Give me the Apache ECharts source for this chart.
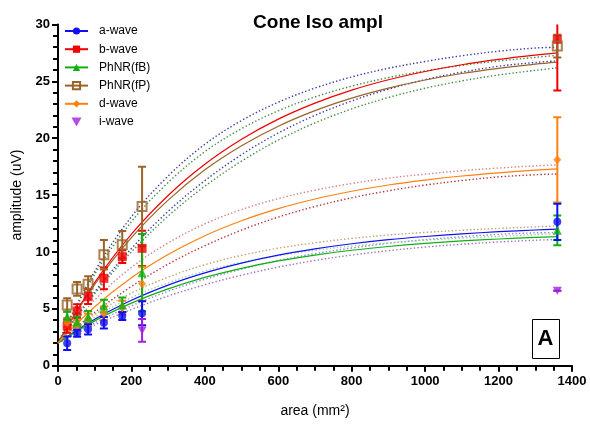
<!DOCTYPE html>
<html>
<head>
<meta charset="utf-8">
<script src="https://cdn.jsdelivr.net/npm/echarts@6/dist/echarts.min.js"></script>
<style>
  html, body { margin: 0; padding: 0; background: #fff; }
  #chart { width: 590px; height: 426px; }
</style>
</head>
<body>
<div id="chart"></div>
<script>
// Stimulus areas (mm²) at which each amplitude was measured
const AREA = [25, 52, 82, 125, 175, 229, 1360];

// Mean amplitudes (uV) and their error bars
const A_WAVE = [1.97, 2.85, 3.2, 3.78, 4.37, 4.61, 12.65];
const A_ERR  = [0.6, 0.3, 0.45, 0.5, 0.35, 1.05, 1.6];
const B_WAVE = [3.49, 4.81, 6.07, 7.68, 9.59, 10.32, 28.7];
const B_ERR  = [0.6, 0.6, 0.65, 0.95, 0.55, 1.55, 4.5];
const FB_WAVE = [4.31, 3.87, 4.31, 5.25, 5.34, 8.18, 11.9];
const FB_ERR  = [0.45, 0.45, 0.5, 0.55, 0.65, 3.4, 1.3];
const FP_WAVE = [5.34, 6.75, 7.16, 9.76, 10.64, 14.0, 28.1];
const FP_ERR  = [0.6, 0.6, 0.7, 1.3, 1.2, 3.5, 1.0];
const D_WAVE = [3.8, 3.6, 4.1, 4.6, 5.1, 7.2, 18.1];
const D_ERR  = [0.4, 0.4, 0.5, 0.6, 0.6, 1.5, 3.75];
const I_WAVE = [null, null, null, null, null, 3.1, 6.6];
const I_ERR  = [null, null, null, null, null, 1.0, 0];

// Fitted saturation curves and their confidence bands, sampled along the area axis
const FIT_X = [0, 100, 200, 300, 400, 500, 600, 700, 800, 900, 1000, 1100, 1200, 1300, 1360];
const A_FIT  = [2, 4.08, 5.75, 7.09, 8.16, 9.02, 9.72, 10.27, 10.72, 11.08, 11.36, 11.59, 11.78, 11.93, 12.00];
const A_HI   = [2, 4.49, 6.38, 7.79, 8.88, 9.70, 10.33, 10.81, 11.19, 11.49, 11.72, 11.91, 12.07, 12.21, 12.30];
const A_LO   = [2, 3.76, 5.26, 6.55, 7.60, 8.49, 9.25, 9.85, 10.35, 10.76, 11.08, 11.34, 11.55, 11.68, 11.70];
const B_FIT  = [2, 7.30, 11.56, 14.97, 17.71, 19.91, 21.68, 23.09, 24.23, 25.14, 25.87, 26.46, 26.93, 27.31, 27.50];
const B_HI   = [2, 8.29, 13.10, 16.68, 19.47, 21.56, 23.17, 24.41, 25.39, 26.15, 26.75, 27.25, 27.65, 27.93, 28.00];
const B_LO   = [2, 6.49, 10.30, 13.57, 16.27, 18.56, 20.46, 22.01, 23.28, 24.31, 25.15, 25.81, 26.33, 26.66, 26.80];
const FB_FIT = [2, 3.94, 5.50, 6.75, 7.76, 8.56, 9.21, 9.73, 10.15, 10.48, 10.75, 10.97, 11.14, 11.28, 11.35];
const FB_HI  = [2, 4.26, 5.99, 7.29, 8.32, 9.09, 9.68, 10.15, 10.52, 10.80, 11.03, 11.22, 11.37, 11.53, 11.60];
const FB_LO  = [2, 3.58, 4.94, 6.13, 7.12, 7.96, 8.67, 9.25, 9.73, 10.11, 10.43, 10.68, 10.88, 11.03, 11.10];
const FP_FIT = [2, 7.14, 11.26, 14.56, 17.22, 19.34, 21.06, 22.43, 23.53, 24.41, 25.12, 25.69, 26.14, 26.51, 26.69];
const FP_HI  = [2, 8.04, 12.66, 16.11, 18.82, 20.84, 22.41, 23.63, 24.58, 25.33, 25.92, 26.41, 26.79, 27.11, 27.29];
const FP_LO  = [2, 6.33, 10.00, 13.16, 15.78, 17.99, 19.84, 21.35, 22.58, 23.58, 24.40, 25.04, 25.56, 25.97, 26.19];
const D_FIT  = [2, 5.18, 7.74, 9.78, 11.43, 12.75, 13.81, 14.66, 15.34, 15.89, 16.32, 16.68, 16.96, 17.19, 17.30];
const D_HI   = [2, 5.77, 8.65, 10.79, 12.47, 13.73, 14.69, 15.44, 16.02, 16.49, 16.84, 17.15, 17.38, 17.57, 17.65];
const D_LO   = [2, 4.68, 6.97, 8.93, 10.55, 11.92, 13.07, 14.00, 14.76, 15.38, 15.88, 16.28, 16.60, 16.79, 16.86];

// Axis ticks
const X_MIN = 0, X_MAX = 1400, X_STEP = 200;
const Y_MIN = 0, Y_MAX = 30, Y_STEP = 5;

const FONT = '"Liberation Sans", Arial, Helvetica, sans-serif';
const C = {
  a: '#1010f0', b: '#f00000', fb: '#10b010', fp: '#9a6428', d: '#ff8010', i: '#a020e0'
};
const DOWN_TRI = 'path://M0,0 L10,0 L5,9 Z';

const pairs = (xs, ys) => xs.map((x, i) => [x, ys[i]]);

function fitLine(name, color, ys, symbol, itemStyle) {
  return {
    type: 'line', name, data: pairs(FIT_X, ys), smooth: 0.35,
    symbol, showSymbol: false, silent: true, z: 3,
    lineStyle: { color, width: 1.2 },
    itemStyle: itemStyle || { color }
  };
}

function band(ys, color) {
  return {
    type: 'line', name: '', data: pairs(FIT_X, ys), smooth: 0.35,
    symbol: 'none', silent: true, z: 2,
    lineStyle: { color, width: 1.4, type: [1.4, 2.2] }
  };
}

function points(name, vals, symbol, size, itemStyle, z) {
  return {
    type: 'scatter', name, symbol, symbolSize: size, z,
    data: AREA.map((x, i) => [x, vals[i]]).filter(p => p[1] != null),
    itemStyle
  };
}

function errorBars(name, color, vals, errs, z) {
  return {
    type: 'custom', name, z, clip: true,
    data: AREA.map((x, i) => vals[i] == null ? null : [x, vals[i] - errs[i], vals[i] + errs[i]]).filter(Boolean),
    encode: { x: 0, y: [1, 2] },
    renderItem(params, api) {
      const x = api.value(0);
      const lo = api.coord([x, api.value(1)]);
      const hi = api.coord([x, api.value(2)]);
      const w = 4;
      const st = { stroke: color, lineWidth: 2 };
      return {
        type: 'group',
        children: [
          { type: 'line', shape: { x1: lo[0], y1: lo[1], x2: hi[0], y2: hi[1] }, style: st },
          { type: 'line', shape: { x1: lo[0] - w, y1: lo[1], x2: lo[0] + w, y2: lo[1] }, style: st },
          { type: 'line', shape: { x1: hi[0] - w, y1: hi[1], x2: hi[0] + w, y2: hi[1] }, style: st }
        ]
      };
    }
  };
}

const hollow = { color: 'rgba(255,255,255,0)', borderColor: C.fp, borderWidth: 2 };

const series = [
  // fitted curves (first, so the legend icons take their line + marker)
  fitLine('a-wave', C.a, A_FIT, 'circle'),
  fitLine('b-wave', C.b, B_FIT, 'rect'),
  fitLine('PhNR(fB)', C.fb, FB_FIT, 'triangle'),
  fitLine('PhNR(fP)', C.fp, FP_FIT, 'rect', hollow),
  fitLine('d-wave', C.d, D_FIT, 'diamond'),
  points('i-wave', I_WAVE, DOWN_TRI, [9, 8], { color: C.i }, 12),
  // confidence bands
  band(B_HI, '#3c3ca8'), band(B_LO, '#3c3ca8'),
  band(FP_HI, '#3f8f3f'), band(FP_LO, '#3f8f3f'),
  band(D_HI, '#d98080'), band(D_LO, '#b03a3a'),
  band(A_HI, '#c0a070'), band(A_LO, '#8a8ad8'),
  band(FB_HI, '#9fd09f'), band(FB_LO, '#a070c0'),
  // error bars
  errorBars('b-wave', C.b, B_WAVE, B_ERR, 5),
  errorBars('PhNR(fP)', C.fp, FP_WAVE, FP_ERR, 5),
  errorBars('d-wave', C.d, D_WAVE, D_ERR, 6),
  errorBars('PhNR(fB)', C.fb, FB_WAVE, FB_ERR, 7),
  errorBars('a-wave', C.a, A_WAVE, A_ERR, 8),
  errorBars('i-wave', C.i, I_WAVE, I_ERR, 9),
  // measured means
  points('b-wave', B_WAVE, 'rect', 9, { color: C.b }, 10),
  points('PhNR(fP)', FP_WAVE, 'rect', 9, hollow, 10),
  points('d-wave', D_WAVE, 'diamond', [8, 9], { color: C.d }, 10),
  points('PhNR(fB)', FB_WAVE, 'triangle', 9, { color: C.fb }, 11),
  points('a-wave', A_WAVE, 'circle', 8, { color: C.a }, 12)
];

const chart = echarts.init(document.getElementById('chart'), null, { renderer: 'canvas' });
chart.setOption({
  animation: false,
  backgroundColor: '#fff',
  title: {
    text: 'Cone Iso ampl', left: 313, top: 8, textAlign: 'center',
    textStyle: { fontFamily: FONT, fontWeight: 'bold', fontSize: 19, color: '#000' }
  },
  legend: {
    data: ['a-wave', 'b-wave', 'PhNR(fB)', 'PhNR(fP)', 'd-wave', 'i-wave'],
    orient: 'vertical', left: 64, top: 25, padding: 0,
    itemWidth: 23, itemHeight: 9, itemGap: 6.2, selectedMode: false,
    textStyle: { fontFamily: FONT, fontSize: 12, color: '#000', padding: [0, 0, 0, 6] }
  },
  grid: { left: 58, right: 18, top: 24.5, bottom: 60.3 },
  xAxis: {
    type: 'value', min: X_MIN, max: X_MAX, interval: X_STEP,
    name: 'area (mm²)', nameLocation: 'middle', nameGap: 38,
    nameTextStyle: { fontFamily: FONT, fontSize: 14, color: '#000' },
    axisLine: { lineStyle: { color: '#000', width: 2 } },
    axisTick: { length: 6, lineStyle: { color: '#000', width: 2 } },
    minorTick: { show: true, splitNumber: 4, length: 5, lineStyle: { color: '#000', width: 2 } },
    axisLabel: {
      fontFamily: FONT, fontSize: 13, fontWeight: 'bold', color: '#000', margin: 9,
      formatter: v => String(v)
    },
    splitLine: { show: false }
  },
  yAxis: {
    type: 'value', min: Y_MIN, max: Y_MAX, interval: Y_STEP,
    name: 'amplitude (uV)', nameLocation: 'middle', nameGap: 31, nameRotate: 90,
    nameTextStyle: { fontFamily: FONT, fontSize: 14, color: '#000' },
    axisLine: { show: true, lineStyle: { color: '#000', width: 2 } },
    axisTick: { show: true, length: 6, lineStyle: { color: '#000', width: 2 } },
    minorTick: { show: true, splitNumber: 5, length: 5, lineStyle: { color: '#000', width: 2 } },
    axisLabel: { fontFamily: FONT, fontSize: 13, fontWeight: 'bold', color: '#000', margin: 8 },
    splitLine: { show: false }
  },
  series,
  graphic: [
    {
      type: 'rect', left: 532, top: 319, z: 100,
      shape: { width: 27, height: 39 },
      style: { fill: '#fff', stroke: '#000', lineWidth: 1 }
    },
    {
      type: 'text', x: 545.5, y: 339, z: 101,
      style: { text: 'A', font: 'bold 22px ' + FONT, fill: '#000', align: 'center', verticalAlign: 'middle' }
    }
  ]
});
</script>
</body>
</html>
